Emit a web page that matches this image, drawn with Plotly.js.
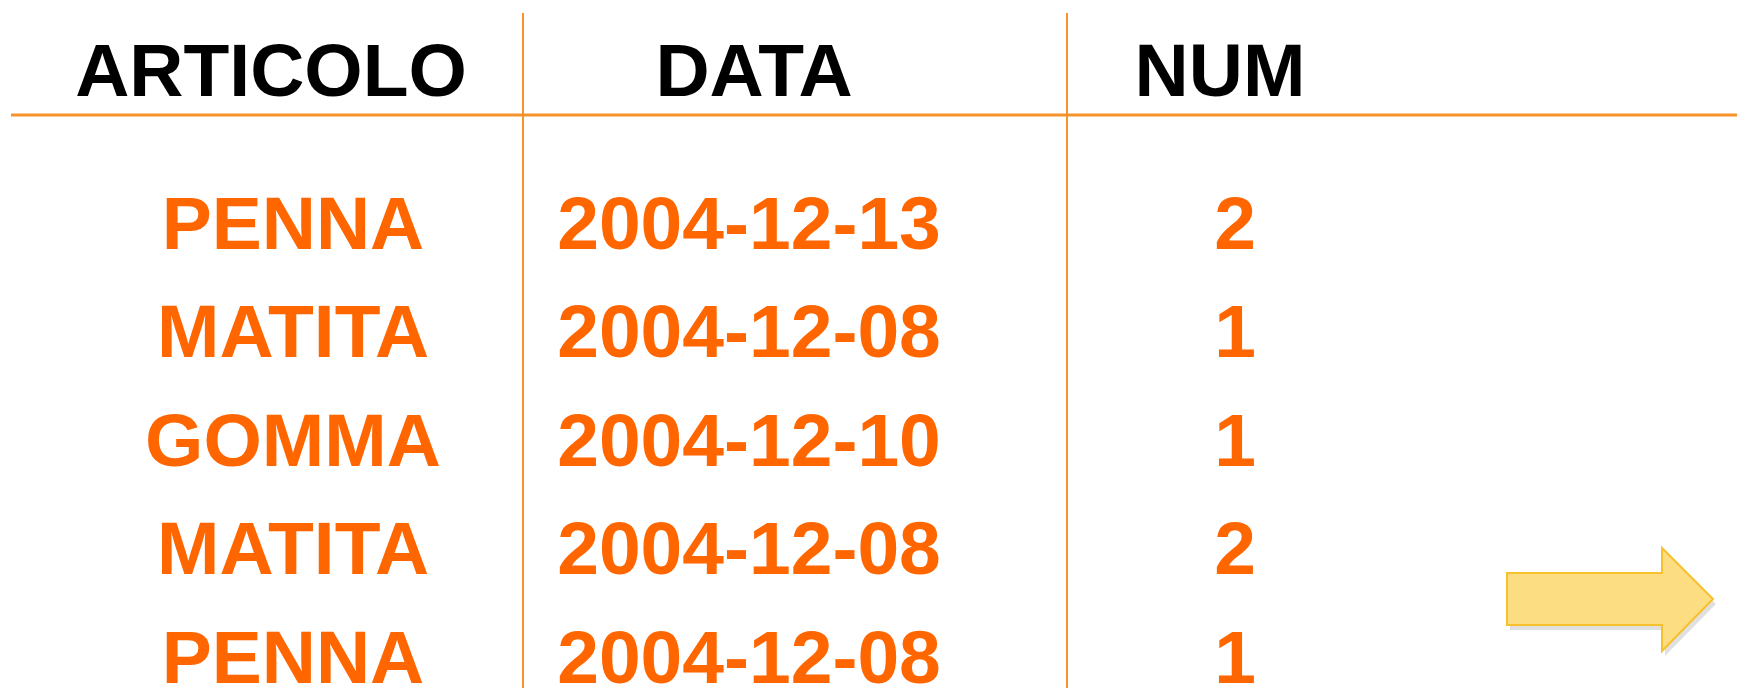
<!DOCTYPE html>
<html>
<head>
<meta charset="utf-8">
<script src="https://cdn.plot.ly/plotly-3.0.1.min.js"></script>
<style>html,body{margin:0;padding:0;background:#fff;}#chart{width:1737px;height:688px;}</style>
</head>
<body>
<div id="chart"></div>
<script>
// ---- data ----
const headers = ["ARTICOLO", "DATA", "NUM"];
const articoli = ["PENNA", "MATITA", "GOMMA", "MATITA", "PENNA"];
const date = ["2004-12-13", "2004-12-08", "2004-12-10", "2004-12-08", "2004-12-08"];
const num = [2, 1, 1, 2, 1];

// ---- layout constants (pixels) ----
const W = 1737, H = 688;
const headerX = [271, 754, 1220];
const colX = [293, 749, 1235];
const rowIdx = articoli.map((_, i) => i);
const headerRow = -1.41;
const orange = "#ff6600";
const lineColor = "#f7932b";

const font = {family: "Liberation Sans, Arial, sans-serif", size: 75, color: orange};
const hfont = {family: "Liberation Sans, Arial, sans-serif", size: 75, color: "#000000"};

function col(values, x) {
  return {
    type: "scatter", mode: "text",
    x: values.map(() => x), y: rowIdx,
    text: values.map(v => "<b>" + v + "</b>"),
    textposition: "middle center",
    textfont: font, hoverinfo: "skip", cliponaxis: false, showlegend: false
  };
}

const traces = [
  {
    type: "scatter", mode: "text",
    x: headerX, y: headers.map(() => headerRow),
    text: headers.map(h => "<b>" + h + "</b>"),
    textposition: "middle center", textfont: hfont,
    hoverinfo: "skip", cliponaxis: false, showlegend: false
  },
  col(articoli, colX[0]),
  col(date, colX[1]),
  col(num.map(String), colX[2])
];

function py(p) { return 1 - p / H; }
function px(p) { return p / W; }
function arrowPath(dx, dy) {
  const pts = [[1507,573],[1662,573],[1662,548],[1713,599],[1662,651],[1662,625],[1507,625]];
  return "M " + pts.map(p => px(p[0]+dx) + "," + py(p[1]+dy)).join(" L ") + " Z";
}

const shapes = [
  {type: "line", xref: "paper", yref: "paper", x0: px(11), x1: px(1737), y0: py(115), y1: py(115), line: {color: lineColor, width: 3}},
  {type: "line", xref: "paper", yref: "paper", x0: px(523), x1: px(523), y0: py(13), y1: py(688), line: {color: lineColor, width: 2}},
  {type: "line", xref: "paper", yref: "paper", x0: px(1067), x1: px(1067), y0: py(13), y1: py(688), line: {color: lineColor, width: 2}},
  {type: "path", xref: "paper", yref: "paper", path: arrowPath(3, 5), fillcolor: "rgba(0,0,0,0.12)", line: {width: 0}},
  {type: "path", xref: "paper", yref: "paper", path: arrowPath(0, 0), fillcolor: "#fddd82", line: {color: "#f6c12c", width: 2}}
];

const layout = {
  width: W, height: H,
  margin: {l: 0, r: 0, t: 0, b: 0},
  paper_bgcolor: "#ffffff", plot_bgcolor: "#ffffff",
  xaxis: {range: [0, W], visible: false, fixedrange: true},
  yaxis: {range: [4.221, -2.120], visible: false, fixedrange: true},
  shapes: shapes,
  showlegend: false
};

Plotly.newPlot("chart", traces, layout, {displayModeBar: false, staticPlot: true});
</script>
</body>
</html>
